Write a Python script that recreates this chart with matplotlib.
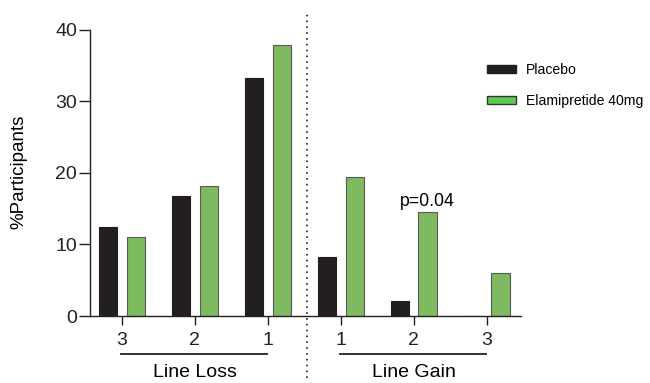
import numpy as np
import matplotlib.pyplot as plt
from matplotlib.patches import Patch

plt.rcParams["font.family"] = ["Liberation Sans", "DejaVu Sans"]

# ─── DATA ─────────────────────────────────────────────────────────────────────
tick_labels = ["3", "2", "1", "1", "2", "3"]
placebo = [12.5, 16.7, 33.3, 8.3, 2.1, 0.0]
elamipretide = [11.0, 18.2, 37.8, 19.4, 14.6, 6.0]
group_names = ["Line Loss", "Line Gain"]
p_label = "p=0.04"
p_index = 4
# ──────────────────────────────────────────────────────────────────────────────

BLACK = "#231f20"
GREEN = "#7dba60"
GREEN_LEG = "#5ec84f"
AXIS = "#222222"

fig = plt.figure(figsize=(6.5, 3.83), dpi=100)
ax = fig.add_axes([0.1377, 0.1749, 0.6638, 0.7476])

x = np.arange(len(tick_labels))
w = 0.25
off = 0.19
ax.bar(x - off, placebo, w, color=BLACK, edgecolor=BLACK, linewidth=0.8)
ax.bar(x + off, elamipretide, w, color=GREEN, edgecolor="#5a5a5a", linewidth=0.8)

ax.set_xlim(-0.445, 5.47)
ax.set_ylim(0, 40)
ax.set_yticks([0, 10, 20, 30, 40])
ax.set_xticks(x)
ax.set_xticklabels(tick_labels)
ax.tick_params(axis="y", length=8, width=1, pad=1, labelsize=14)
ax.tick_params(axis="x", length=6.5, width=1, pad=5, labelsize=14)
for s in ["top", "right"]:
    ax.spines[s].set_visible(False)
for s in ["left", "bottom"]:
    ax.spines[s].set_linewidth(1)
    ax.spines[s].set_color(AXIS)
ax.tick_params(colors=AXIS)

ax.set_ylabel("%Participants", fontsize=13.5)
ax.yaxis.set_label_coords(-0.143, 0.505)

# group underlines and names
trans = ax.get_xaxis_transform()
for i, name in enumerate(group_names):
    x0, x1 = x[3 * i], x[3 * i + 2]
    ax.plot([x0 - 0.01, x1 - 0.01], [-0.134, -0.134], color=AXIS, lw=1.3,
            transform=trans, clip_on=False)
    ax.text((x0 + x1) / 2, -0.198, name, transform=trans, ha="center", va="center",
            fontsize=14)

# divider between loss and gain
ax.plot([2.53, 2.53], [-0.217, 1.062], color=AXIS, lw=1.2, ls=(0, (1, 2.5)),
        transform=trans, clip_on=False)

ax.text(x[p_index] + off, elamipretide[p_index] + 1.4, p_label, ha="center",
        va="center", fontsize=12.7)

handles = [Patch(facecolor=BLACK, edgecolor=BLACK, label="Placebo"),
           Patch(facecolor=GREEN_LEG, edgecolor="#333333", label="Elamipretide 40mg")]
ax.legend(handles=handles, loc="upper left", bbox_to_anchor=(487 / 650, 1 - 63 / 383),
          bbox_transform=fig.transFigure, frameon=False, fontsize=10.1,
          handlelength=2.1, handleheight=0.5, handletextpad=0.65,
          labelspacing=1.2, borderpad=0, borderaxespad=0)

plt.savefig("out.png", dpi=100)
